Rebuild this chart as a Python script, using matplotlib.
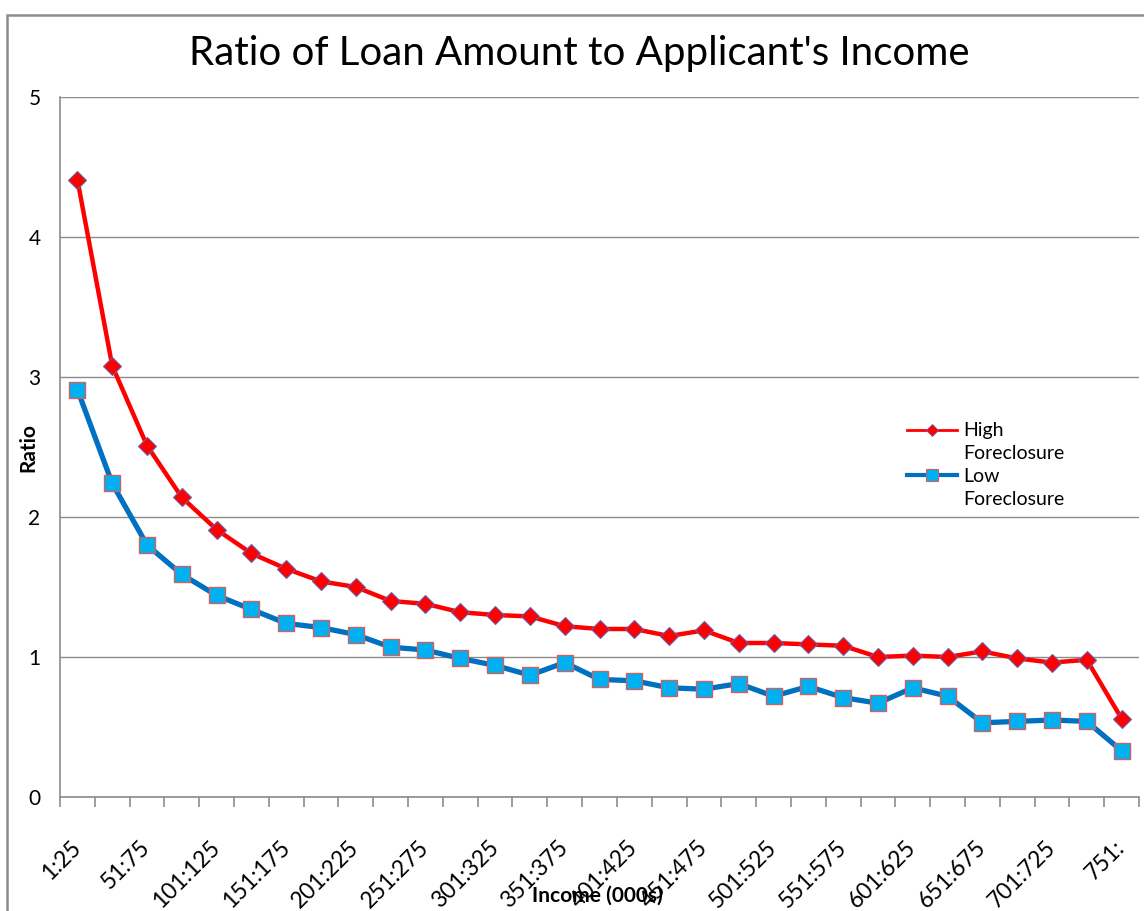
#!/usr/bin/env python3

import numpy as np
import matplotlib
matplotlib.use("Agg")
import matplotlib.pyplot as plt
from matplotlib.patches import Rectangle
from matplotlib.lines import Line2D

# income bands (000s)
bands = ["1:25", "26:50", "51:75", "76:100", "101:125", "126:150", "151:175",
         "176:200", "201:225", "226:250", "251:275", "276:300", "301:325",
         "326:350", "351:375", "376:400", "401:425", "426:450", "451:475",
         "476:500", "501:525", "526:550", "551:575", "576:600", "601:625",
         "626:650", "651:675", "676:700", "701:725", "726:750", "751:"]

high_fc = [4.41, 3.08, 2.51, 2.14, 1.91, 1.74, 1.63, 1.54, 1.50, 1.40,
           1.38, 1.32, 1.30, 1.29, 1.22, 1.20, 1.20, 1.15, 1.19, 1.10,
           1.10, 1.09, 1.08, 1.00, 1.01, 1.00, 1.04, 0.99, 0.96, 0.98, 0.56]

low_fc = [2.91, 2.24, 1.80, 1.59, 1.44, 1.34, 1.24, 1.21, 1.16, 1.07,
          1.05, 0.99, 0.94, 0.87, 0.96, 0.84, 0.83, 0.78, 0.77, 0.81,
          0.72, 0.79, 0.71, 0.67, 0.78, 0.72, 0.53, 0.54, 0.55, 0.54, 0.33]

RED, RED_EDGE = "#ff0000", "#6d5fa8"
BLUE, BLUE_FILL, BLUE_EDGE = "#0070c0", "#00b0f0", "#d0605f"
GRAY = "#8c8c8c"

plt.rcParams["font.family"] = ["Lato", "DejaVu Sans"]

W, H = 1144, 911
fig = plt.figure(figsize=(W / 100, H / 100), dpi=100)
ax = fig.add_axes([60 / W, 1 - 797 / H, (1139 - 60) / W, (797 - 97) / H])

# chart area border (partly off the page)
fig.add_artist(Rectangle((7 / W, -0.05), 1.2, 1 - 15 / H + 0.05,
                         transform=fig.transFigure, fill=False,
                         edgecolor=GRAY, linewidth=1.8, clip_on=False))

x = np.arange(len(bands))
ax.plot(x, high_fc, color=RED, linewidth=3.2, marker="D", markersize=9,
        markerfacecolor=RED, markeredgecolor=RED_EDGE, markeredgewidth=0.8,
        zorder=3)
ax.plot(x, low_fc, color=BLUE, linewidth=3.8, marker="s", markersize=12,
        markerfacecolor=BLUE_FILL, markeredgecolor=BLUE_EDGE, markeredgewidth=1.0,
        zorder=3)

ax.set_xlim(-0.5, len(bands) - 0.5)
ax.set_ylim(0, 5)
ax.set_yticks(range(6))
ax.yaxis.grid(True, color=GRAY, linewidth=1.0)
ax.set_axisbelow(True)
ax.tick_params(axis="y", length=0, labelsize=15, pad=14)

ax.set_xticks(x[::2])
ax.set_xticklabels(bands[::2], rotation=45, ha="right", va="center",
                   rotation_mode="anchor", fontsize=16.5)
ax.set_xticks(np.arange(len(bands) + 1) - 0.5, minor=True)
ax.tick_params(axis="x", which="major", length=0, pad=34)
ax.tick_params(axis="x", which="minor", length=7, color=GRAY, width=1.2)

for s in ["top", "right"]:
    ax.spines[s].set_visible(False)
for s in ["left", "bottom"]:
    ax.spines[s].set_color(GRAY)
    ax.spines[s].set_linewidth(1.2)

fig.text(579 / W, 1 - 53 / H, "Ratio of Loan Amount to Applicant's Income",
         ha="center", va="center", fontsize=29)
fig.text(28 / W, 1 - 447 / H, "Ratio", rotation=90, ha="center", va="center",
         fontsize=15, fontweight="bold")
fig.text(597 / W, 1 - 896 / H, "Income (000s)", ha="center", va="center",
         fontsize=15, fontweight="bold")

# legend: the second word of each label sits on its own row, as in Excel
blank = Line2D([], [], linestyle="none")
handles = [
    Line2D([], [], color=RED, linewidth=2, marker="D", markersize=6,
           markerfacecolor=RED, markeredgecolor=RED_EDGE, markeredgewidth=0.6),
    blank,
    Line2D([], [], color=BLUE, linewidth=3, marker="s", markersize=9,
           markerfacecolor=BLUE_FILL, markeredgecolor=BLUE_EDGE, markeredgewidth=0.8),
    blank,
]
labels = ["High", "Foreclosure", "Low", "Foreclosure"]
ax.legend(handles, labels, loc="upper left",
          bbox_to_anchor=(829 / 1079, (797 - 405) / 700),
          frameon=False, fontsize=14, handlelength=2.6, labelspacing=0.3,
          handletextpad=0.3)

fig.savefig("out.png", dpi=100)
